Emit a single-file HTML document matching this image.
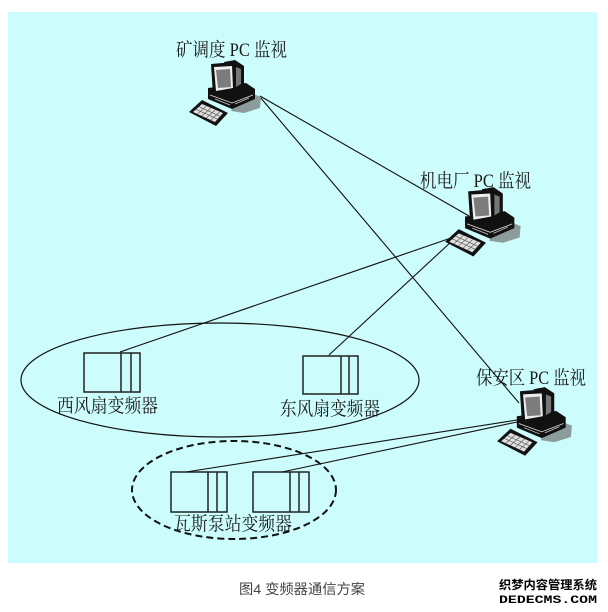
<!DOCTYPE html>
<html><head><meta charset="utf-8"><style>
html,body{margin:0;padding:0;background:#fff;}
svg{display:block;}
.lbl{font-family:"Liberation Serif","Noto Serif CJK SC",serif;fill:#1a1a1a;}
</style></head><body>
<svg width="608" height="612" viewBox="0 0 608 612" xmlns="http://www.w3.org/2000/svg">
<defs>
<g id="pc">
 <polygon points="55,33 73,40 72,51 56,56 43,54" fill="#8c9c9c"/>
 <polygon points="20,31 58,26 67,32 67,42 44,52 20,42" fill="#111"/>
 <polyline points="22,38 44,46 65,38" fill="none" stroke="#ddd" stroke-width="0.8"/>
 <polyline points="27,42 42,48" fill="none" stroke="#ccc" stroke-width="0.7"/>
 <polyline points="47,47 61,41" fill="none" stroke="#ccc" stroke-width="0.7"/>
 <polygon points="36,5 47,3 56,9 56,30 46,34" fill="#111"/>
 <polygon points="48,10 53,12 53,27 48,30" fill="#777"/>
 <polygon points="23,7 46,5 47,34 25,38" fill="#111"/>
 <polygon points="26,10 44,9 45,31 28,34" fill="#eee"/>
 <polygon points="28,13 42,12 43,30 30,31" fill="#7c7c7c"/>
 <polygon points="1,55 14,43 40,56 28,69" fill="#111"/>
 <polygon points="5,55 14,47 35,56 27,65" fill="#e0e0e0"/>
 <g stroke="#555" stroke-width="0.6">
  <line x1="8" y1="52.3" x2="30" y2="62.3"/>
  <line x1="11" y1="49.7" x2="33" y2="59.7"/>
  <line x1="9.4" y1="57" x2="18.4" y2="49"/>
  <line x1="13.8" y1="59" x2="22.8" y2="51"/>
  <line x1="18.2" y1="61" x2="27.2" y2="53"/>
  <line x1="22.6" y1="63" x2="31.6" y2="55"/>
 </g>
</g>
</defs>

<rect x="8" y="12" width="589" height="551" fill="#ccfcfc"/>

<!-- ellipses -->
<ellipse cx="220" cy="380" rx="199" ry="57" fill="none" stroke="#111" stroke-width="1.2"/>
<ellipse cx="234" cy="490" rx="102" ry="49" fill="none" stroke="#111" stroke-width="2" stroke-dasharray="7 4"/>

<!-- inverter boxes -->
<g fill="none" stroke="#222" stroke-width="1.5">
 <rect x="84" y="353" width="56" height="39"/>
 <line x1="121" y1="353" x2="121" y2="392"/>
 <line x1="131" y1="353" x2="131" y2="392"/>
 <rect x="303" y="356" width="55" height="38"/>
 <line x1="341" y1="356" x2="341" y2="394"/>
 <line x1="349" y1="356" x2="349" y2="394"/>
 <rect x="171" y="472" width="56" height="40"/>
 <line x1="208" y1="472" x2="208" y2="512"/>
 <line x1="217" y1="472" x2="217" y2="512"/>
 <rect x="253" y="472" width="56" height="40"/>
 <line x1="290" y1="472" x2="290" y2="512"/>
 <line x1="299" y1="472" x2="299" y2="512"/>
</g>

<!-- connectors -->
<g stroke="#111" stroke-width="1.1" fill="none">
 <line x1="260" y1="96" x2="469" y2="216"/>
 <line x1="260" y1="97" x2="519" y2="403"/>
 <line x1="451" y1="238" x2="120" y2="352"/>
 <line x1="452" y1="241" x2="329" y2="355"/>
 <line x1="517" y1="420" x2="186" y2="472"/>
 <line x1="517" y1="422" x2="282" y2="472"/>
</g>

<!-- computers -->
<use href="#pc" transform="translate(188,57)"/>
<use href="#pc" transform="translate(444,184) scale(1.05)"/>
<use href="#pc" transform="translate(496,384) scale(1.04)"/>

<!-- labels -->
<text class="lbl" x="176" y="56" font-size="19" textLength="111" lengthAdjust="spacingAndGlyphs">矿调度 PC 监视</text>
<text class="lbl" x="420" y="187" font-size="19" textLength="111" lengthAdjust="spacingAndGlyphs">机电厂 PC 监视</text>
<text class="lbl" x="476" y="384" font-size="19" textLength="110" lengthAdjust="spacingAndGlyphs">保安区 PC 监视</text>
<text class="lbl" x="57" y="412" font-size="19" textLength="101" lengthAdjust="spacingAndGlyphs">西风扇变频器</text>
<text class="lbl" x="280" y="415" font-size="19" textLength="100" lengthAdjust="spacingAndGlyphs">东风扇变频器</text>
<text class="lbl" x="174" y="530" font-size="19" textLength="118" lengthAdjust="spacingAndGlyphs">瓦斯泵站变频器</text>

<!-- caption -->
<text x="239" y="594" font-size="14" fill="#444" font-family="Liberation Sans, Noto Sans CJK SC, sans-serif" textLength="126" lengthAdjust="spacingAndGlyphs">图4 变频器通信方案</text>

<!-- watermark -->
<text x="499" y="589" font-size="12" font-weight="bold" fill="#000" stroke="#fff" stroke-width="2" paint-order="stroke" font-family="Liberation Sans, Noto Sans CJK SC, sans-serif" textLength="98" lengthAdjust="spacingAndGlyphs">织梦内容管理系统</text>
<text x="499" y="603" font-size="11" font-weight="bold" fill="#000" stroke="#fff" stroke-width="2" paint-order="stroke" font-family="Liberation Mono, monospace" textLength="98" lengthAdjust="spacingAndGlyphs">DEDECMS.COM</text>
</svg>
</body></html>
